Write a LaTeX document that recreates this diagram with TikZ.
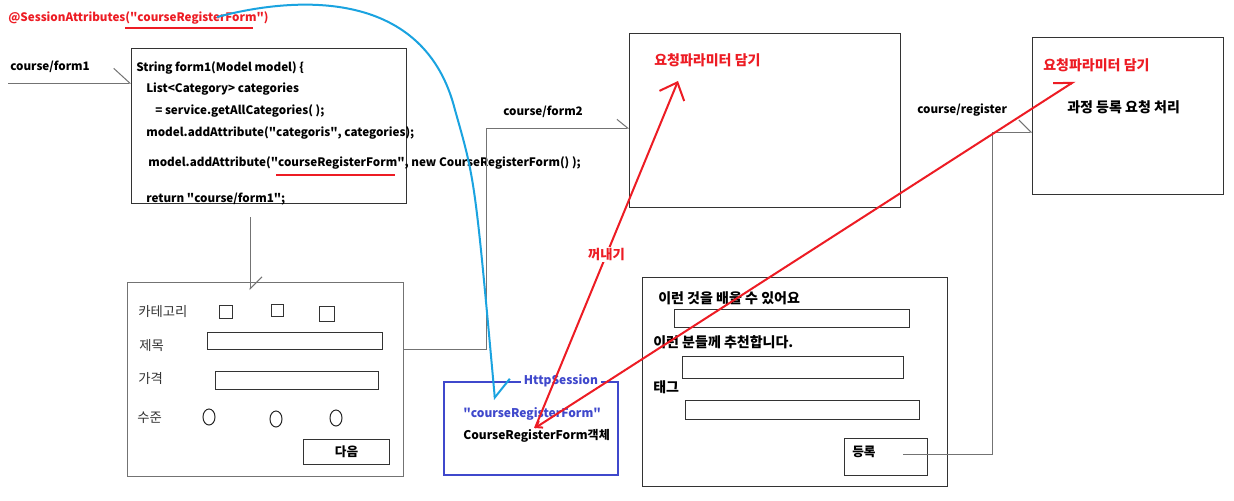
\documentclass[tikz,border=0pt]{standalone}
\usepackage{fontspec}
\setmainfont{Noto Sans CJK KR}
\usetikzlibrary{arrows.meta}
\definecolor{pen}{HTML}{ED1C24}
\definecolor{sky}{HTML}{1AA3E0}
\definecolor{indigo}{HTML}{3F48CC}
\tikzset{
  panel/.style={draw=black!80, line width=0.75pt, inner sep=0pt, anchor=north west},
  txt/.style={inner sep=0pt, anchor=west, font=\fontsize{8.75}{11}\selectfont\bfseries},
  kor/.style={txt, font=\fontsize{10.5}{12}\selectfont\bfseries},
  lbl/.style={inner sep=0pt, anchor=west, font=\fontsize{10}{12}\selectfont, text=black!80},
  conn/.style={draw=black!55, line width=0.75pt},
  redline/.style={draw=pen, line width=1.5pt},
}
\begin{document}
\begin{tikzpicture}[x=0.75pt, y=-0.75pt]
\fill[white] (0,0) rectangle (1234,500);
\useasboundingbox (0,0) rectangle (1234,500);

\node[panel, minimum width=206.25pt, minimum height=116.25pt] (form1) at (131,48) {};
\node[panel, draw=black!55, minimum width=207pt, minimum height=145.5pt] (catform) at (127,282) {};
\node[panel, minimum width=203.25pt, minimum height=130.5pt] (form2) at (629,33) {};
\node[panel, minimum width=143.25pt, minimum height=117.75pt] (register) at (1032,37) {};
\node[panel, minimum width=228.75pt, minimum height=156.75pt] (regform) at (642,277) {};
\node[panel, draw=indigo, line width=1.5pt, minimum width=130.5pt, minimum height=69.75pt] (session) at (443,381) {};

\node[txt, text=pen] (sesattr) at (8,18) {@SessionAttributes(\textquotedbl courseRegisterForm\textquotedbl)};
\node[txt] (url1) at (10,67) {course/form1};
\node[txt] (code1) at (136,68) {String form1(Model model) \{};
\node[txt] (code2) at (146,89) {List<Category> categories};
\node[txt] (code3) at (155,111) {= service.getAllCategories( );};
\node[txt] (code4) at (146,133) {model.addAttribute(\textquotedbl categoris\textquotedbl, categories);};
\node[txt] (code5) at (148,163) {model.addAttribute(\textquotedbl courseRegisterForm\textquotedbl, new CourseRegisterForm() );};
\node[txt] (code6) at (146,199) {return \textquotedbl course/form1\textquotedbl;};
\node[txt] (url2) at (503,112) {course/form2};
\node[txt] (url3) at (917,110) {course/register};
\node[kor, text=pen] (param1) at (654,60) {요청파라미터 담기};
\node[kor, text=pen] (param2) at (1043,65) {요청파라미터 담기};
\node[kor] (proc) at (1067,107) {과정 등록 요청 처리};

\node[lbl] (cat) at (138,312) {카테고리};
\node[lbl] (title) at (139,345) {제목};
\node[lbl] (price) at (138,378) {가격};
\node[lbl] (level) at (137,418) {수준};
\node[panel, minimum size=9.75pt] (cb1) at (219,305) {};
\node[panel, minimum size=9pt] (cb2) at (271,304) {};
\node[panel, minimum size=11.25pt] (cb3) at (319,306) {};
\node[panel, minimum width=131.25pt, minimum height=12.75pt] (titlebox) at (207,332) {};
\node[panel, minimum width=122.25pt, minimum height=13.5pt] (pricebox) at (215,371) {};
\draw[black!85, line width=0.75pt] (209,417) ellipse [x radius=4.5pt, y radius=6pt];
\draw[black!85, line width=0.75pt] (276,419) ellipse [x radius=4.5pt, y radius=6pt];
\draw[black!85, line width=0.75pt] (336,418) ellipse [x radius=4.5pt, y radius=6pt];
\node[panel, minimum width=64.5pt, minimum height=18.75pt, font=\fontsize{9.5}{11}\selectfont\bfseries] (nextbtn) at (303,439) {다음};

\node[kor] (learn) at (658,298) {이런 것을 배울 수 있어요};
\node[kor] (target) at (653,342) {이런 분들께 추천합니다.};
\node[kor] (tag) at (653,387) {태그};
\node[panel, minimum width=176.25pt, minimum height=13.5pt] (learnbox) at (674,309) {};
\node[panel, minimum width=165.75pt, minimum height=16.5pt] (targetbox) at (682,356) {};
\node[panel, minimum width=175.5pt, minimum height=14.25pt] (tagbox) at (685,400) {};
\node[panel, minimum width=62.25pt, minimum height=27.75pt] (regbtn) at (844,438) {};
\node[txt, font=\fontsize{9.5}{11}\selectfont\bfseries] (regtxt) at (852,452) {등록};

\node[txt, font=\fontsize{9}{11}\selectfont\bfseries, text=indigo, fill=white, inner xsep=2pt] (sesname) at (521,381) {HttpSession};
\node[txt, font=\fontsize{9}{11}\selectfont\bfseries, text=indigo] (key) at (463,414) {\textquotedbl courseRegisterForm\textquotedbl};
\node[txt, font=\fontsize{9}{11}\selectfont\bfseries] (obj) at (463,436) {CourseRegisterForm객체};

\draw[redline] (125,28) -- (253,28);
\draw[redline] (276,175) -- (395,175);

\coordinate (in1) at (8,83);
\draw[conn, -{Straight Barb[left,length=12pt,width=22pt]}] (in1) -- (in1 -| form1.west);
\coordinate (dn) at (250,217);
\coordinate (dnend) at (250,290);
\draw[conn, -{Straight Barb[left,length=9pt,width=18pt]}] (dn) -- (dnend);
\coordinate (j1) at (486,349);
\coordinate (j2) at (486,128);
\draw[conn, -{Straight Barb[left,length=8pt,width=13pt]}] (catform.east |- j1) -- (j1) -- (j2) -- (form2.west |- j2);
\coordinate (b0) at (903,454);
\coordinate (j3) at (992,454);
\coordinate (j4) at (992,132);
\draw[conn, -{Straight Barb[left,length=9pt,width=18pt]}] (b0) -- (j3) -- (j4) -- (register.west |- j4);

\coordinate (sa) at (217,17);
\coordinate (sb) at (495,400);
\draw[sky, line width=1.5pt, -{Straight Barb[left,length=13pt,width=25pt]}] (sa) .. controls (300,-5) and (425,-10) .. (455,110) .. controls (475,180) .. (sb);

\coordinate (ob) at (535,428);
\coordinate (t1) at (678,81);
\coordinate (t2) at (1075,81);
\draw[redline, -{Straight Barb[length=11pt,width=20pt]}] (ob) -- node[fill=white, text=pen, inner sep=1pt, font=\fontsize{10}{12}\selectfont\bfseries] {꺼내기} (t1);
\draw[redline, {Straight Barb[length=4pt,width=6pt]}-{Straight Barb[left,length=12pt,width=15pt]}] (ob) -- (t2);
\end{tikzpicture}
\end{document}
